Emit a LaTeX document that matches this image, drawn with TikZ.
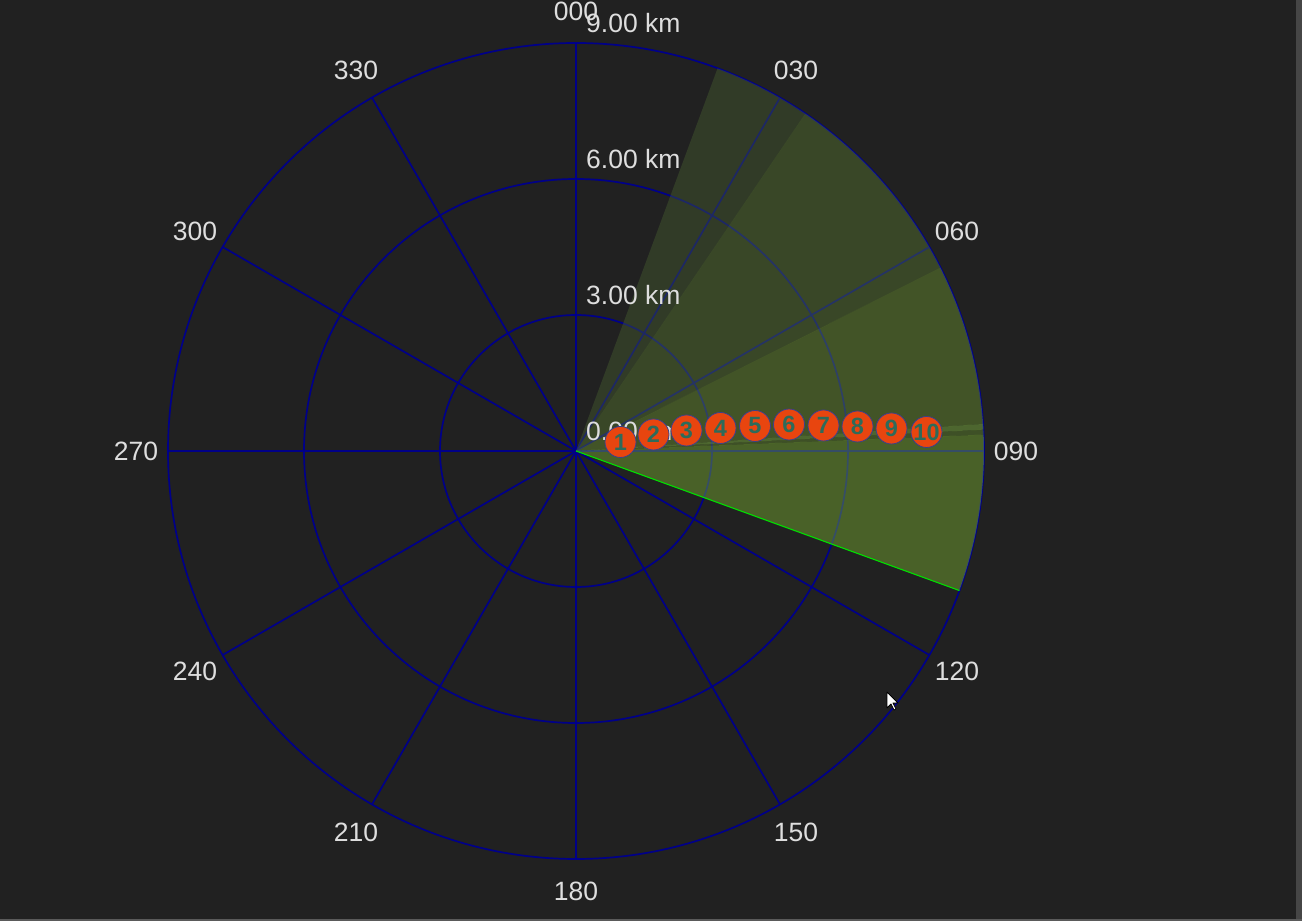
\documentclass[tikz,border=0pt]{standalone}
\usepackage{fontspec}
\setmainfont{Liberation Sans}
\definecolor{bg}{HTML}{212121}
\definecolor{stripR}{HTML}{464646}
\definecolor{stripB}{HTML}{5A5A5A}
\definecolor{gridblue}{HTML}{000088}
\definecolor{labelgray}{HTML}{DEDEDE}
\definecolor{mkorange}{HTML}{E8450F}
\definecolor{mkborder}{HTML}{3A3F8C}
\definecolor{mktext}{HTML}{2D6B5A}
\definecolor{secA}{HTML}{4A6331}
\definecolor{secB}{HTML}{5E8131}
\definecolor{secC}{HTML}{74A131}
\definecolor{secL}{HTML}{90CE45}
\definecolor{secD}{HTML}{6A972E}
\definecolor{secE}{HTML}{86C234}
\definecolor{limeline}{HTML}{00E000}
\newcommand\mysector[3]{\fill[#3, fill opacity=0.4] (0,0) -- ({90-#1}:408) arc[start angle={90-#1}, end angle={90-#2}, radius=408] -- cycle;}
\begin{document}
\begin{tikzpicture}[x=1pt,y=1pt,
  lbl/.style={text=labelgray, font=\fontsize{26.5}{26.5}\selectfont, inner sep=0pt},
  gridline/.style={draw=gridblue, line width=1.7pt},
  mk/.style={circle, fill=mkorange, draw=mkborder, line width=0.8pt, minimum size=31pt, inner sep=0pt, text=mktext, font=\bfseries\fontsize{23.5}{23.5}\selectfont},
  edgeline/.style={draw=limeline, line width=1.1pt}
]
\fill[bg] (0,0) rectangle (1302,921);
\useasboundingbox (0,0) rectangle (1302,921);
\fill[stripR] (1296,0) rectangle (1302,921);
\fill[stripB] (0,0) rectangle (1302,1.7);
\begin{scope}[shift={(576,470)}]
  \coordinate (c) at (0,0);
  % grid
  \foreach \r in {136,272,408} \draw[gridline] (c) circle[radius=\r];
  \foreach \b in {0,30,...,330} \draw[gridline] (c) -- ({90-\b}:408);
  % sectors
  \mysector{20.3}{34.2}{secA}
  \mysector{34.2}{63.3}{secB}
  \mysector{63.3}{86.2}{secC}
  \mysector{86.2}{87.0}{secL}
  \mysector{87.0}{87.7}{secD}
  \mysector{87.7}{110}{secE}
  \coordinate (edge110) at ({90-110}:408);
  \draw[edgeline] (c) -- (edge110);
  % range labels
  \node[lbl, anchor=west] (r9) at (10,428) {9.00 km};
  \node[lbl, anchor=west] (r6) at (10,292) {6.00 km};
  \node[lbl, anchor=west] (r3) at (10,156) {3.00 km};
  \node[lbl, anchor=west] (r0) at (10,20) {0.00 km};
  % bearing labels
  \node[lbl] (b000) at (90:440) {000};
  \node[lbl] (b030) at (60:440) {030};
  \node[lbl] (b060) at (30:440) {060};
  \node[lbl] (b090) at (0:440) {090};
  \node[lbl] (b120) at (-30:440) {120};
  \node[lbl] (b150) at (-60:440) {150};
  \node[lbl] (b180) at (-90:440) {180};
  \node[lbl] (b210) at (-120:440) {210};
  \node[lbl] (b240) at (-150:440) {240};
  \node[lbl] (b270) at (180:440) {270};
  \node[lbl] (b300) at (150:440) {300};
  \node[lbl] (b330) at (120:440) {330};
  % markers
  \node[mk] (m1) at (44.5,9) {1};
  \node[mk] (m2) at (77.5,16.5) {2};
  \node[mk] (m3) at (110.5,20.5) {3};
  \node[mk] (m4) at (144.5,23) {4};
  \node[mk] (m5) at (179,25) {5};
  \node[mk] (m6) at (213,26.5) {6};
  \node[mk] (m7) at (247.5,25.5) {7};
  \node[mk] (m8) at (281.5,24.5) {8};
  \node[mk] (m9) at (315.5,22.5) {9};
  \node[mk] (m10) at (350.5,19) {10};
  % mouse cursor
  \filldraw[fill=white, draw=black, line width=0.8pt, line join=round]
    (311,-241) -- (311,-257) -- (315,-253) -- (318,-259) -- (320,-258) -- (317,-252) -- (322,-252) -- cycle;
\end{scope}
\end{tikzpicture}
\end{document}
